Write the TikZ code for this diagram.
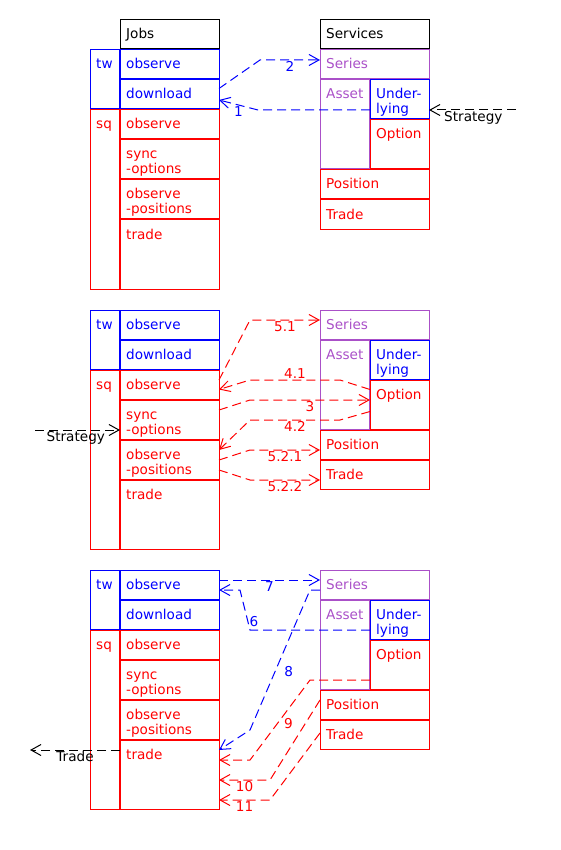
\documentclass[tikz,border=0pt]{standalone}
\usepackage{fontspec}
\setmainfont{DejaVu Sans}
\usetikzlibrary{arrows.meta}
\definecolor{tblue}{RGB}{0,0,255}
\definecolor{tred}{RGB}{255,0,0}
\definecolor{tpurple}{RGB}{170,80,200}

% one cell: name, left, top, width, height, colour, text
\newcommand{\boxcell}[7]{%
  \node[box, draw=#6, minimum width=#4pt, minimum height=#5pt] (#1) at (#2,#3) {};
  \node[txt, text=#6] (#1t) at (#2+6,#3+19) {\begin{tabular}[t]{@{}l@{}}#7\end{tabular}};
}

\begin{document}
\begin{tikzpicture}[x=1pt, y=-1pt,
    box/.style={anchor=north west, inner sep=0pt, outer sep=0pt, line width=1pt},
    txt/.style={anchor=base west, inner sep=0pt, font=\fontsize{13.6}{15}\selectfont},
    lbl/.style={inner sep=1pt, font=\fontsize{13.6}{15}\selectfont},
    flow/.style={line width=1pt, dash pattern=on 9pt off 5pt, -{Straight Barb[length=10pt,width=11pt]}}]
    \useasboundingbox (0,0) rectangle (560,850);
    
    \boxcell{jobs}{120}{20}{99}{29}{black}{Jobs}
    \boxcell{services}{320}{20}{109}{29}{black}{Services}
    
    \foreach \p/\dy in {a/0,b/260,c/520}{
        \boxcell{tw\p}{90}{50+\dy}{29}{59}{tblue}{tw}
        \boxcell{obs\p}{120}{50+\dy}{99}{29}{tblue}{observe}
        \boxcell{dl\p}{120}{80+\dy}{99}{29}{tblue}{download}
        \boxcell{sq\p}{90}{110+\dy}{29}{179}{tred}{sq}
        \boxcell{sqobs\p}{120}{110+\dy}{99}{29}{tred}{observe}
        \boxcell{sync\p}{120}{140+\dy}{99}{39}{tred}{sync\\-options}
        \boxcell{obspos\p}{120}{180+\dy}{99}{39}{tred}{observe\\-positions}
        \boxcell{trade\p}{120}{220+\dy}{99}{69}{tred}{trade}
        \boxcell{ser\p}{320}{50+\dy}{109}{29}{tpurple}{Series}
        \boxcell{asset\p}{320}{80+\dy}{49}{89}{tpurple}{Asset}
        \boxcell{und\p}{370}{80+\dy}{59}{39}{tblue}{Under-\\lying}
        \boxcell{opt\p}{370}{120+\dy}{59}{49}{tred}{Option}
        \boxcell{posit\p}{320}{170+\dy}{109}{29}{tred}{Position}
        \boxcell{trd\p}{320}{200+\dy}{109}{29}{tred}{Trade}
    }
    
    % first round
    \draw[flow, tblue] ([yshift=6]dla.east) -- (260,60) -- node[lbl, below] (l2) {2} ([yshift=4.5]sera.west);
    \draw[flow, tblue] ([yshift=-10.5]unda.west) -- (258,110) -- node[lbl, below] (l1) {1} ([yshift=-5.5]dla.east);
    \draw[flow, black] (516,110) -- node[lbl, below, pos=0.49] (ls1) {Strategy} ([yshift=-10.5]unda.east);
    
    % second round
    \draw[flow, tred] ([yshift=4.5]sqobsb.east) -- (250,320) -- node[lbl, below] (l51) {5.1} ([yshift=4.5]serb.west);
    \draw[flow, tred] ([yshift=15]optb.west) -- (340,380) -- node[lbl, above] (l41) {4.1} (250,380) -- ([yshift=-5]sqobsb.east);
    \draw[flow, tred] ([yshift=9.5]syncb.east) -- (250,400) -- node[lbl, below] (l3) {3} ([yshift=4.5]optb.west);
    \draw[flow, tred] ([yshift=-7]optb.west) -- (340,420) -- node[lbl, below] (l42) {4.2} (250,420) -- ([yshift=9.5]obsposb.east);
    \draw[flow, tred] ([yshift=-0.5]obsposb.east) -- (250,450) -- node[lbl, below] (l521) {5.2.1} ([yshift=-5.5]positb.west);
    \draw[flow, tred] ([yshift=-10.5]obsposb.east) -- (250,480) -- node[lbl, below] (l522) {5.2.2} ([yshift=-5.5]trdb.west);
    \draw[flow, black] (35,430) -- node[lbl, below, pos=0.48] (ls2) {Strategy} ([yshift=-10.5]syncb.west);
    
    % third round
    \draw[flow, tblue] ([yshift=4.5]obsc.east) -- node[lbl, below] (l7) {7} ([yshift=4.5]serc.west);
    \draw[flow, tblue] ([yshift=-10.5]undc.west) -- (250,630) -- node[lbl, right, pos=0.2] (l6) {6} (240,590) -- ([yshift=-5.5]obsc.east);
    \draw[flow, tblue] ([yshift=-5.5]serc.west) -- (310,590) -- node[lbl, right=8pt, pos=0.586] (l8) {8} (250,730) -- ([yshift=24.5]tradec.east);
    \draw[flow, tred] ([yshift=-15.5]optc.west) -- (310,680) -- node[lbl, right=5pt, pos=0.54] (l9) {9} (250,760) -- ([yshift=14.5]tradec.east);
    \draw[flow, tred] ([yshift=4.5]positc.west) -- (270,780) -- node[lbl, below] (l10) {10} ([yshift=-5.5]tradec.east);
    \draw[flow, tred] ([yshift=1.5]trdc.west) -- (270,800) -- node[lbl, below] (l11) {11} ([yshift=-25.5]tradec.east);
    \draw[flow, black] ([yshift=24.5]tradec.west) -- node[lbl, below] (ltr) {Trade} (30,750);
\end{tikzpicture}
\end{document}
